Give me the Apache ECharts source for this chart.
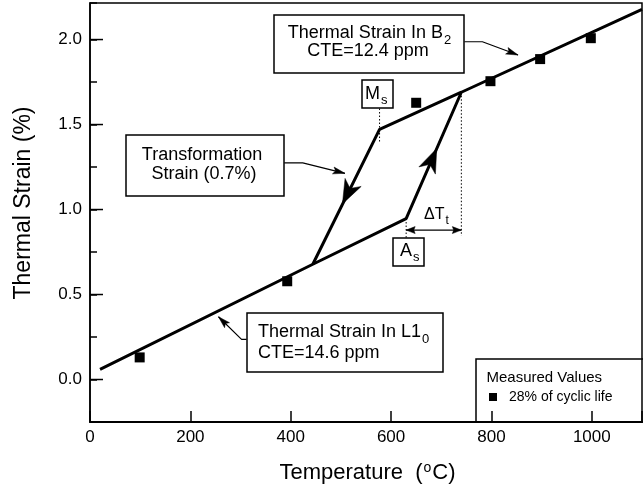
<!DOCTYPE html>
<html><head><meta charset="utf-8">
<script src="https://cdn.jsdelivr.net/npm/echarts@6/dist/echarts.min.js"></script>
<style>html,body{margin:0;padding:0;background:#fff}#c{width:643px;height:488px}</style>
</head><body><div id="c"></div>
<script>
// ---------- data ----------
const tempTicks = [0, 200, 400, 600, 800, 1000];
const strainMajorTicks = [0, 0.5, 1.0, 1.5, 2.0];

const measuredTemp = [99, 393, 650, 798, 897, 998];
const measuredStrain = [0.13, 0.578, 1.628, 1.755, 1.885, 2.008];

const heatingTemp = [20, 444, 630, 740, 1100];
const heatingStrain = [0.06, 0.678, 0.947, 1.69, 2.178];
const coolingTemp = [740, 577, 444];
const coolingStrain = [1.69, 1.472, 0.678];

const msGuideTemp = [577, 577];   const msGuideStrain = [1.40, 1.60];
const asGuideTemp = [630, 630];   const asGuideStrain = [0.947, 0.83];
const afGuideTemp = [740, 740];   const afGuideStrain = [1.69, 0.845];
const deltaTTemp = [630, 740];    const deltaTStrain = [0.879, 0.879];

const leaderB2Temp = [746, 782, 853];    const leaderB2Strain = [1.987, 1.987, 1.909];
const leaderTransTemp = [387, 424, 508]; const leaderTransStrain = [1.274, 1.274, 1.213];
const leaderL10Temp = [312, 302, 256];   const leaderL10Strain = [0.236, 0.236, 0.369];

const coolArrowTip = [503, 1.033];
const heatArrowTip = [691, 1.359];

// ---------- helpers ----------
const FF = "'Liberation Sans', Arial, Helvetica, sans-serif";
const TICK = '#000';
const zip = (a, b) => a.map((v, i) => [v, b[i]]);
const last = a => a[a.length - 1];
const prev = a => a[a.length - 2];

const arrowHeads = [
  [coolingTemp[1], coolingStrain[1], coolArrowTip[0], coolArrowTip[1], 0],
  [heatingTemp[2], heatingStrain[2], heatArrowTip[0], heatArrowTip[1], 0],
  [prev(leaderB2Temp), prev(leaderB2Strain), last(leaderB2Temp), last(leaderB2Strain), 1],
  [prev(leaderTransTemp), prev(leaderTransStrain), last(leaderTransTemp), last(leaderTransStrain), 1],
  [prev(leaderL10Temp), prev(leaderL10Strain), last(leaderL10Temp), last(leaderL10Strain), 1],
  [(deltaTTemp[0] + deltaTTemp[1]) / 2, deltaTStrain[0], deltaTTemp[0], deltaTStrain[0], 2],
  [(deltaTTemp[0] + deltaTTemp[1]) / 2, deltaTStrain[1], deltaTTemp[1], deltaTStrain[1], 2]
];
const headStyles = { 0: [24, 9, 0.72], 1: [12, 3.5, 0.8], 2: [9, 3.5, 0.85] };

function renderArrowHead(params, api) {
  const p0 = api.coord([api.value(0), api.value(1)]);
  const p1 = api.coord([api.value(2), api.value(3)]);
  const hs = headStyles[api.value(4)];
  const L = hs[0], W = hs[1], notch = hs[2];
  let dx = p1[0] - p0[0], dy = p1[1] - p0[1];
  const len = Math.hypot(dx, dy) || 1; dx /= len; dy /= len;
  const nx = -dy, ny = dx;
  const bx = p1[0] - dx * L, by = p1[1] - dy * L;
  const mx = p1[0] - dx * L * notch, my = p1[1] - dy * L * notch;
  return {
    type: 'polygon',
    shape: { points: [p1, [bx + nx * W, by + ny * W], [mx, my], [bx - nx * W, by - ny * W]] },
    style: { fill: '#000', stroke: '#000', lineWidth: 0.5 }
  };
}
function renderMajorTick(params, api) {
  const p = api.coord([api.value(0), api.value(1)]);
  return { type: 'line', shape: { x1: p[0], y1: p[1], x2: p[0] + 13, y2: p[1] },
    style: { stroke: TICK, lineWidth: 1.5 } };
}

function thinLine(name, t, s, dotted) {
  return {
    type: 'line', name: name, data: zip(t, s), symbol: 'none', silent: true, z: 3,
    lineStyle: { color: '#000', width: dotted ? 1 : 1.2, type: dotted ? [1.5, 2] : 'solid' }
  };
}
function txt(x, y, text, extra) {
  return { type: 'text', x: x, y: y, z: 10,
    style: Object.assign({ text: text, fill: '#000', fontFamily: FF, fontSize: 18,
      align: 'left', verticalAlign: 'middle' }, extra || {}) };
}
function subTxt(x, y, main, sub, mainSize, subSize, subPad, align) {
  return { type: 'text', x: x, y: y, z: 10,
    style: { text: '{m|' + main + '}{s|' + sub + '}', fill: '#000', fontFamily: FF,
      align: align || 'left', verticalAlign: 'top',
      rich: {
        m: { fontSize: mainSize, lineHeight: mainSize, verticalAlign: 'top', fontFamily: FF, fill: '#000' },
        s: { fontSize: subSize, lineHeight: subSize, verticalAlign: 'top', fontFamily: FF, fill: '#000', padding: [subPad, 0, 0, 1] }
      } } };
}
function box(x, y, w, h, fill) {
  return { type: 'rect', z: 9, shape: { x: x, y: y, width: w, height: h },
    style: { fill: fill === undefined ? '#fff' : fill, stroke: '#000', lineWidth: 1.5 } };
}

const chart = echarts.init(document.getElementById('c'), null, { renderer: 'canvas' });
const axisFont = { fontFamily: FF, fontSize: 17, color: '#000' };

chart.setOption({
  animation: false,
  backgroundColor: '#fff',
  grid: { left: 90, right: 1, top: 3, bottom: 66, show: true, borderColor: '#000', borderWidth: 1.5, backgroundColor: 'transparent' },
  xAxis: {
    type: 'value', min: 0, max: 1100, interval: 200, position: 'bottom',
    axisLine: { show: true, onZero: false, lineStyle: { color: '#000', width: 2 } },
    axisTick: { show: true, inside: true, length: 11, lineStyle: { color: TICK, width: 1.5 } },
    axisLabel: Object.assign({ customValues: tempTicks, margin: 7, formatter: v => String(v) }, axisFont),
    splitLine: { show: false }
  },
  yAxis: {
    type: 'value', min: -0.25, max: 2.215, interval: 0.25, position: 'left',
    axisLine: { show: true, onZero: false, lineStyle: { color: '#000', width: 1.5 } },
    axisTick: { show: true, inside: true, length: 7, lineStyle: { color: TICK, width: 1.5 } },
    axisLabel: Object.assign({ customValues: strainMajorTicks, margin: 8, formatter: v => v.toFixed(1) }, axisFont),
    splitLine: { show: false }
  },
  legend: {
    data: ['28% of cyclic life'], left: 489, top: 390, padding: 0, itemGap: 0,
    icon: 'rect', itemWidth: 8, itemHeight: 8, selectedMode: false,
    itemStyle: { color: '#000', opacity: 1 },
    textStyle: { fontFamily: FF, fontSize: 14, color: '#000', padding: [0, 0, 0, 7] }
  },
  series: [
    { type: 'line', name: 'heating', data: zip(heatingTemp, heatingStrain), symbol: 'none', silent: true, z: 4,
      lineStyle: { color: '#000', width: 3 } },
    { type: 'line', name: 'cooling', data: zip(coolingTemp, coolingStrain), symbol: 'none', silent: true, z: 4,
      lineStyle: { color: '#000', width: 3 } },
    thinLine('Ms guide', msGuideTemp, msGuideStrain, true),
    thinLine('As guide', asGuideTemp, asGuideStrain, true),
    thinLine('Af guide', afGuideTemp, afGuideStrain, true),
    thinLine('deltaT', deltaTTemp, deltaTStrain, false),
    thinLine('leader B2', leaderB2Temp, leaderB2Strain, false),
    thinLine('leader trans', leaderTransTemp, leaderTransStrain, false),
    thinLine('leader L10', leaderL10Temp, leaderL10Strain, false),
    { type: 'scatter', name: '28% of cyclic life', data: zip(measuredTemp, measuredStrain),
      symbol: 'rect', symbolSize: 10, itemStyle: { color: '#000', opacity: 1 }, z: 5 },
    { type: 'custom', name: 'arrowheads', data: arrowHeads, renderItem: renderArrowHead,
      encode: { x: [0, 2], y: [1, 3] }, silent: true, z: 6 },
    { type: 'custom', name: 'major ticks', data: strainMajorTicks.map(v => [0, v]), renderItem: renderMajorTick,
      encode: { x: 0, y: 1 }, silent: true, z: 6, clip: false }
  ],
  graphic: [
    box(274, 15, 190, 58),
    box(126, 135, 158, 61),
    box(247, 313, 196, 59),
    box(362, 80, 31, 28),
    box(393, 238, 31, 28),
    box(476, 359, 200, 63, 'none'),
    subTxt(369.5, 24, 'Thermal Strain In B', '2', 18, 13, 9.5, 'center'),
    txt(368, 51.5, 'CTE=12.4 ppm', { align: 'center' }),
    txt(202, 155, 'Transformation', { align: 'center' }),
    txt(204, 174, 'Strain (0.7%)', { align: 'center' }),
    subTxt(258, 323, 'Thermal Strain In L1', '0', 18, 13, 9.5, 'left'),
    txt(258, 353, 'CTE=14.6 ppm'),
    subTxt(365, 85, 'M', 's', 18, 13, 8.5, 'left'),
    subTxt(400, 242.5, 'A', 's', 18, 13, 8.5, 'left'),
    subTxt(424, 206.5, '\u0394T', 't', 16, 12, 8, 'left'),
    txt(486.5, 377.5, 'Measured Values', { fontSize: 15 }),
    { type: 'text', x: 23.5, y: 203, rotation: Math.PI / 2, z: 10,
      style: { text: 'Thermal Strain (%)', fill: '#000', fontFamily: FF, fontSize: 23, align: 'center', verticalAlign: 'middle' } },
    { type: 'text', x: 367.5, y: 461.5, z: 10,
      style: { text: '{a|Temperature  (}{o|o}{a|C)}', fill: '#000', fontFamily: FF, align: 'center', verticalAlign: 'top',
        rich: {
          a: { fontSize: 22, lineHeight: 22, verticalAlign: 'top', fontFamily: FF, fill: '#000' },
          o: { fontSize: 14, lineHeight: 11, verticalAlign: 'top', fontFamily: FF, fill: '#000', padding: [0, 1, 0, 1] }
        } } }
  ]
});
</script></body></html>
